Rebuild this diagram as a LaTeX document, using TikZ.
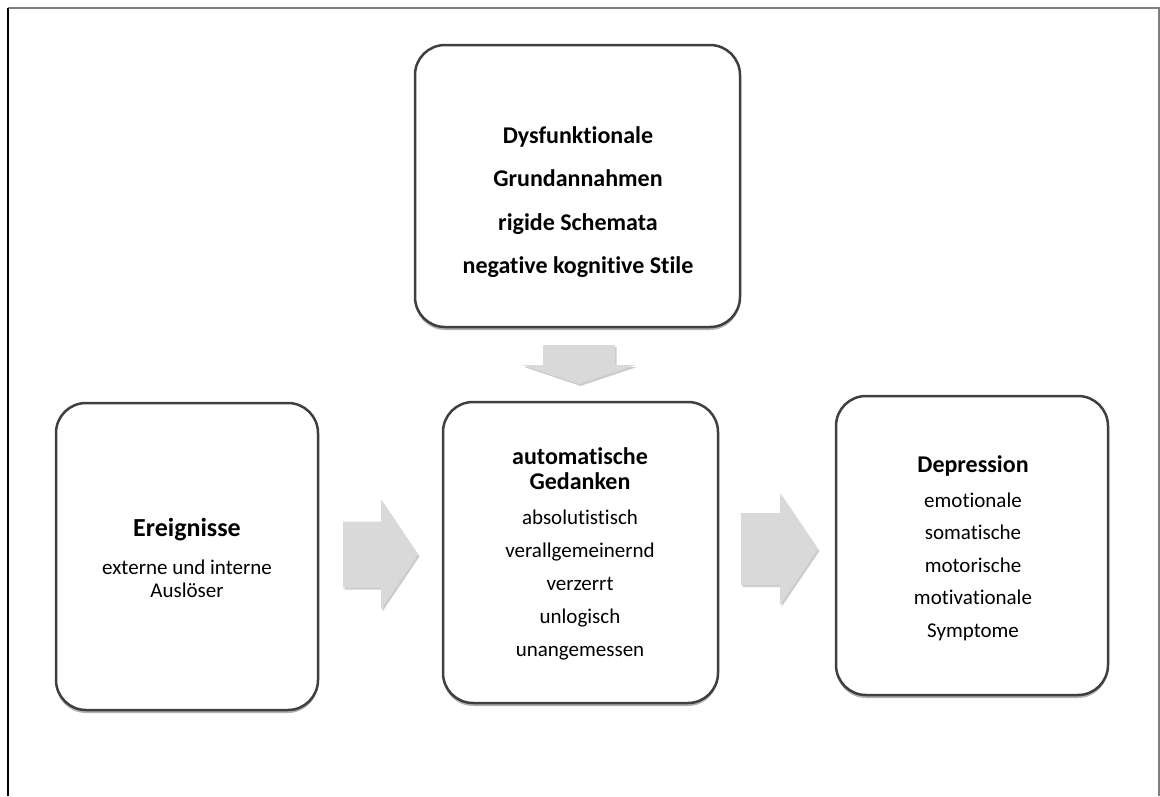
\documentclass[tikz,border=0pt]{standalone}
\usepackage{fontspec}
\setmainfont[Ligatures={TeX,NoCommon}]{Carlito}
\usetikzlibrary{calc,shadows}

\definecolor{boxline}{HTML}{3F3F3F}
\definecolor{arrowgray}{HTML}{D9D9D9}
\definecolor{framegray}{HTML}{7F7F7F}

% bold heading line inside a box
\newcommand\boxhead[2][24]{{\fontsize{#1}{30}\selectfont\bfseries #2}}

\tikzset{
  box/.style={draw=boxline, line width=2.5pt, rounded corners=30pt, fill=white,
    drop shadow={shadow xshift=0pt, shadow yshift=-3pt, opacity=0.3, fill=black}},
  boxtext/.style={align=center, inner sep=0pt, text=black},
  blockarrow/.style={fill=arrowgray,
    drop shadow={shadow xshift=1.5pt, shadow yshift=-2pt, opacity=0.2, fill=black}},
}

\begin{document}
\begin{tikzpicture}[x=1pt, y=-1pt]
  \useasboundingbox (0,0) rectangle (1160,796);

  % page frame
  \draw[framegray, line width=1.2pt] (8,8) -- (1159,8) -- (1159,796);
  \draw[black, line width=1.3pt] (8,796) -- (8,8);

  % boxes
  \node[box, minimum width=325pt, minimum height=282pt] (schema) at (577.5,186) {};
  \node[box, minimum width=262pt, minimum height=307pt] (ev) at (187,556.5) {};
  \node[box, minimum width=275pt, minimum height=301pt] (auto) at (580.5,552.5) {};
  \node[box, minimum width=272pt, minimum height=299pt] (dep) at (972,545.5) {};

  % box texts
  \node[boxtext, font=\fontsize{24}{43.3}\selectfont\bfseries] (schematxt) at (578,202)
    {Dysfunktionale\\Grundannahmen\\rigide Schemata\\negative kognitive Stile};
  \node[boxtext, font=\fontsize{21}{23}\selectfont] (evtxt) at (187,558)
    {\boxhead[26]{Ereignisse}\\[15pt]externe und interne\\Auslöser};
  \node[boxtext, font=\fontsize{21}{33}\selectfont] (autotxt) at (580,554)
    {\boxhead{automatische}\\[-8pt]\boxhead{Gedanken}\\[2pt]absolutistisch\\verallgemeinernd\\verzerrt\\unlogisch\\unangemessen};
  \node[boxtext, font=\fontsize{21}{32.5}\selectfont] (deptxt) at (973,548.5)
    {\boxhead{Depression}\\[2pt]emotionale\\somatische\\motorische\\motivationale\\Symptome};

  % block arrows between the boxes
  \coordinate (m1) at ($(ev.east)!0.5!(auto.west)$);
  \coordinate (m2) at ($(auto.east)!0.5!(dep.west)+(2.5,0)$);
  \coordinate (m3) at ($(schema.south)!0.5!(auto.north)$);

  \fill[blockarrow, shift={(m1)}]
    (-37.5,-33) -- (0.5,-33) -- (0.5,-55) -- (37.5,0) -- (0.5,55) -- (0.5,33) -- (-37.5,33) -- cycle;
  \fill[blockarrow, shift={(m2)}]
    (-38.5,-36) -- (0.5,-36) -- (0.5,-56) -- (38.5,0) -- (0.5,56) -- (0.5,36) -- (-38.5,36) -- cycle;
  \fill[blockarrow, shift={(m3)}]
    (-36,-19.5) -- (36,-19.5) -- (36,0.5) -- (56.5,0.5) -- (0,19.5) -- (-56.5,0.5) -- (-36,0.5) -- cycle;
\end{tikzpicture}
\end{document}
